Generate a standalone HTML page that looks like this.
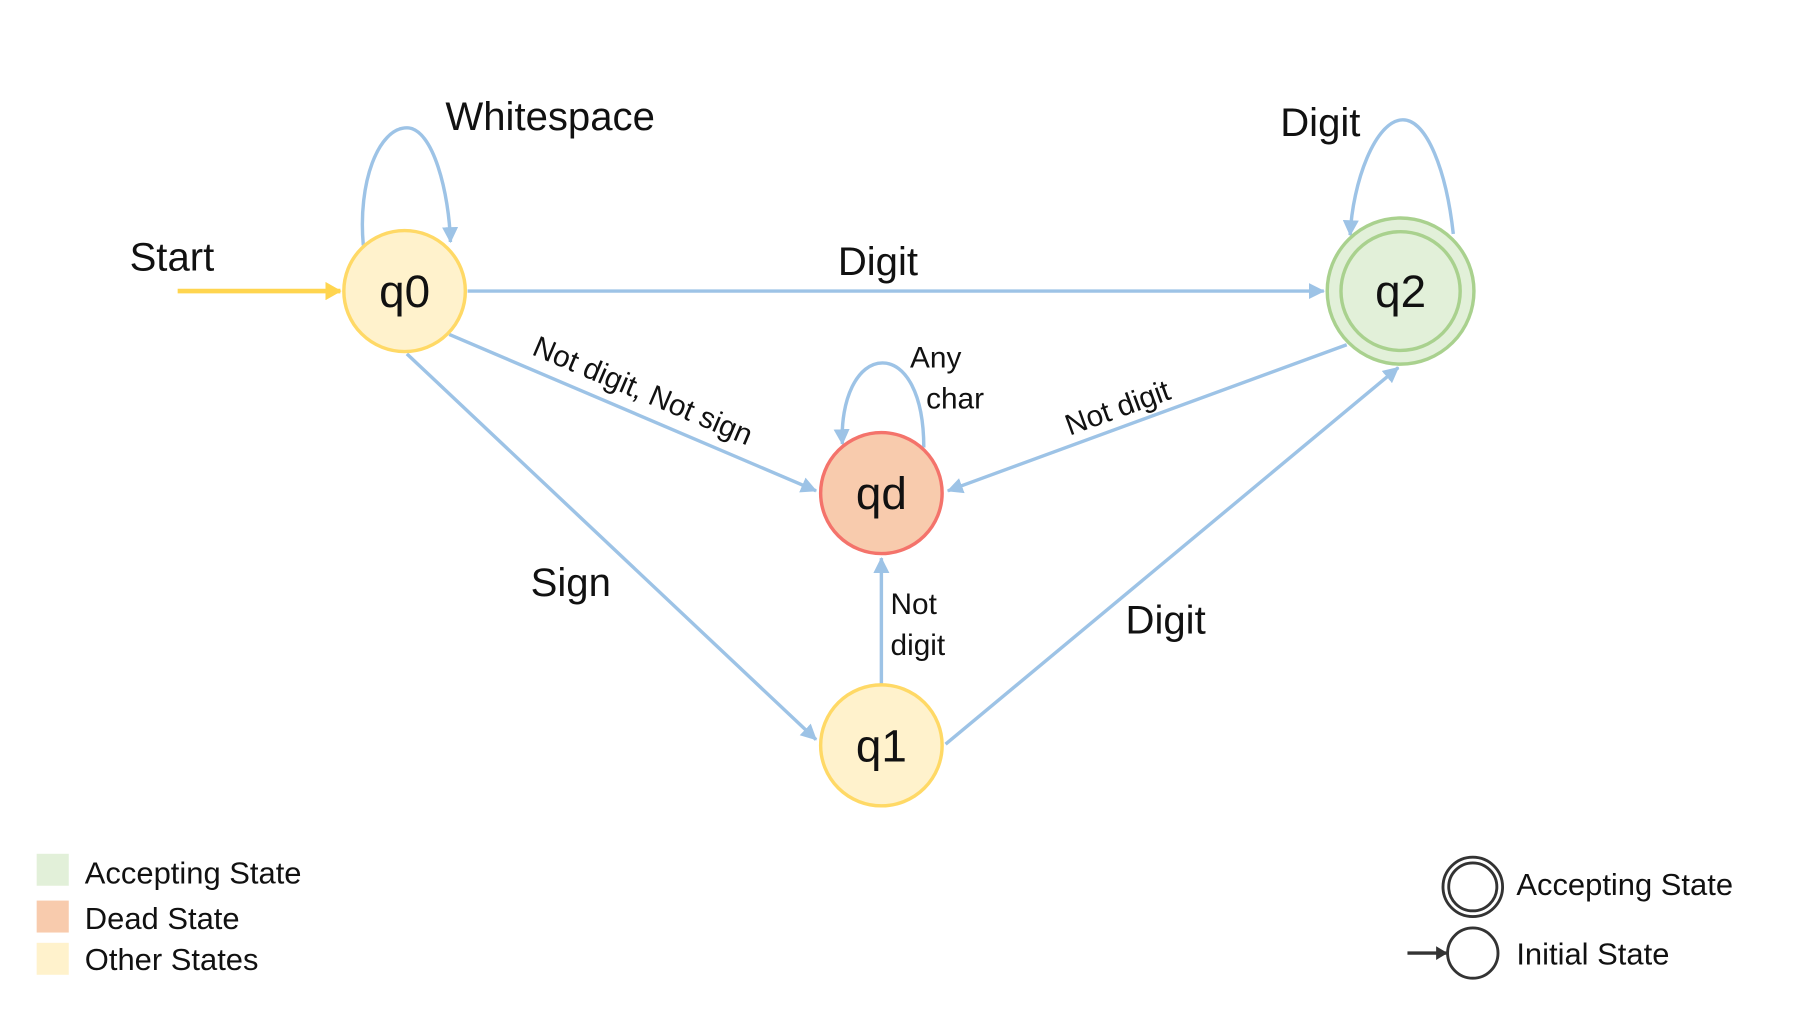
<!DOCTYPE html>
<html><head><meta charset="utf-8"><style>
html,body{margin:0;padding:0;background:#fff;}
svg{display:block;}
text{font-family:"Liberation Sans",sans-serif;fill:#111;}
</style></head><body>
<svg width="1796" height="1025" viewBox="0 0 1567 898" preserveAspectRatio="none" xmlns="http://www.w3.org/2000/svg">
<defs>
<marker id="a" markerWidth="14" markerHeight="14" refX="13" refY="7" orient="auto" markerUnits="userSpaceOnUse" viewBox="0 0 14 14">
<path d="M0,0 L14,7 L0,14 z" fill="#9dc3e6"/></marker>
<marker id="ay" markerWidth="14" markerHeight="16" refX="13" refY="8" orient="auto" markerUnits="userSpaceOnUse" viewBox="0 0 14 16">
<path d="M0,0 L14,8 L0,16 z" fill="#ffd54f"/></marker>
<marker id="ak" markerWidth="10" markerHeight="12" refX="9" refY="6" orient="auto" markerUnits="userSpaceOnUse" viewBox="0 0 10 12">
<path d="M0,0 L10,6 L0,12 z" fill="#333"/></marker>
</defs>
<g stroke="#9dc3e6" stroke-width="3" fill="none">
<line x1="408" y1="255" x2="1155" y2="255" marker-end="url(#a)"/>
<path d="M317,215 C312,160 330,112 355,112 C378,112 392,170 393,212" marker-end="url(#a)"/>
<path d="M1268,205 C1262,150 1245,105 1224,105 C1200,105 1180,160 1178,206" marker-end="url(#a)"/>
<line x1="392" y1="293" x2="712" y2="430" marker-end="url(#a)"/>
<path d="M806,392 C806,345 790,318 770,318 C748,318 733,350 735,389" marker-end="url(#a)"/>
<line x1="1175" y1="302" x2="827" y2="430" marker-end="url(#a)"/>
<line x1="355" y1="310" x2="712" y2="648" marker-end="url(#a)"/>
<line x1="769" y1="600" x2="769" y2="489" marker-end="url(#a)"/>
<line x1="825" y1="652" x2="1220" y2="322" marker-end="url(#a)"/>
</g>
<line x1="155" y1="255" x2="297" y2="255" stroke="#ffd54f" stroke-width="4" marker-end="url(#ay)"/>
<circle cx="353" cy="255" r="53" fill="#fff2cc" stroke="#ffd966" stroke-width="3"/>
<circle cx="769" cy="653" r="53" fill="#fff2cc" stroke="#ffd966" stroke-width="3"/>
<circle cx="769" cy="432" r="53" fill="#f8cbad" stroke="#f4736b" stroke-width="3"/>
<circle cx="1222" cy="255" r="64" fill="#e2f0d9" stroke="#a9d18e" stroke-width="3"/>
<circle cx="1222" cy="255" r="52" fill="none" stroke="#a9d18e" stroke-width="3"/>
<g font-size="40" text-anchor="middle">
<text x="353" y="269">q0</text>
<text x="769" y="667">q1</text>
<text x="769" y="446">qd</text>
<text x="1222" y="269">q2</text>
</g>
<g font-size="35" text-anchor="middle">
<text x="150" y="237">Start</text>
<text x="480" y="114">Whitespace</text>
<text x="766" y="241">Digit</text>
<text x="1152" y="119">Digit</text>
<text x="498" y="522">Sign</text>
<text x="1017" y="555">Digit</text>
</g>
<g font-size="26">
<text x="561" y="351" text-anchor="middle" transform="rotate(23 561 342)">Not digit, Not sign</text>
<text x="975" y="366" text-anchor="middle" transform="rotate(-20 975 357)">Not digit</text>
<text x="794" y="322">Any</text>
<text x="808" y="358">char</text>
<text x="777" y="538">Not</text>
<text x="777" y="574">digit</text>
</g>
<rect x="32" y="748" width="28" height="28" fill="#e2f0d9"/>
<rect x="32" y="789" width="28" height="28" fill="#f8cbad"/>
<rect x="32" y="826" width="28" height="28" fill="#fff2cc"/>
<g font-size="27">
<text x="74" y="774">Accepting State</text>
<text x="74" y="814">Dead State</text>
<text x="74" y="850">Other States</text>
<text x="1323" y="784">Accepting State</text>
<text x="1323" y="845">Initial State</text>
</g>
<circle cx="1285" cy="777" r="26" fill="none" stroke="#333" stroke-width="2.5"/>
<circle cx="1285" cy="777" r="21" fill="none" stroke="#333" stroke-width="2.5"/>
<circle cx="1285" cy="835" r="22" fill="none" stroke="#333" stroke-width="2.5"/>
<line x1="1228" y1="835" x2="1262" y2="835" stroke="#333" stroke-width="3" marker-end="url(#ak)"/>
</svg>
</body></html>
